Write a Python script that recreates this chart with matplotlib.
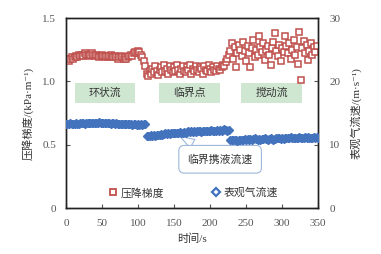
import numpy as np
import matplotlib
matplotlib.use("Agg")
import matplotlib.pyplot as plt

plt.rcParams['font.family'] = ['Liberation Serif', 'Noto Sans CJK SC', 'DejaVu Sans']
plt.rcParams['axes.unicode_minus'] = False

# ---- data ----
t_red1 = np.arange(0, 107, 2)
dp_red1 = [1.17,1.18,1.16,1.18,1.19,1.18,1.19,1.20,1.19,1.21,
           1.20,1.21,1.20,1.22,1.21,1.21,1.20,1.21,1.22,1.21,
           1.20,1.21,1.20,1.19,1.20,1.21,1.20,1.19,1.20,1.19,
           1.20,1.21,1.20,1.19,1.20,1.19,1.18,1.19,1.20,1.19,
           1.18,1.19,1.18,1.19,1.20,1.21,1.20,1.22,1.23,1.22,
           1.24,1.23,1.21,1.19]
t_red2 = np.arange(108, 227, 2)
dp_red2 = [1.16,1.12,1.06,1.04,1.08,1.06,1.10,1.07,1.12,1.08,
           1.05,1.09,1.11,1.07,1.13,1.08,1.10,1.06,1.12,1.09,
           1.07,1.11,1.08,1.13,1.09,1.06,1.10,1.12,1.08,1.07,
           1.11,1.09,1.13,1.06,1.10,1.08,1.12,1.09,1.07,1.11,
           1.10,1.06,1.12,1.09,1.08,1.13,1.10,1.07,1.11,1.09,
           1.08,1.12,1.10,1.09,1.11,1.13,1.12,1.15,1.18,1.21]
t_red3 = np.arange(228, 349, 2)
dp_red3 = [1.24,1.30,1.18,1.27,1.11,1.22,1.29,1.25,1.20,1.31,
           1.24,1.16,1.28,1.22,1.11,1.26,1.33,1.19,1.25,1.21,
           1.36,1.27,1.23,1.30,1.17,1.25,1.28,1.21,1.13,1.26,
           1.31,1.38,1.24,1.20,1.29,1.16,1.26,1.23,1.36,1.28,
           1.22,1.30,1.18,1.25,1.33,1.21,1.27,1.14,1.39,1.01,
           1.26,1.32,1.22,1.29,1.17,1.24,1.30,1.21,1.27,1.23,
           1.28]

t_blue1 = np.arange(0, 111, 2)
vg_blue1 = [13.2,13.3,13.2,13.4,13.3,13.2,13.3,13.4,13.3,13.3,
            13.4,13.5,13.4,13.3,13.4,13.5,13.4,13.4,13.5,13.4,
            13.5,13.4,13.5,13.6,13.5,13.4,13.5,13.5,13.4,13.5,
            13.4,13.3,13.4,13.4,13.3,13.4,13.3,13.2,13.3,13.3,
            13.2,13.3,13.2,13.2,13.3,13.2,13.1,13.2,13.2,13.1,
            13.2,13.1,13.2,13.1,13.2,13.2]
t_blue2 = np.arange(112, 227, 2)
vg_blue2 = [11.3,11.4,11.3,11.5,11.4,11.5,11.4,11.6,11.5,11.6,
            11.7,11.6,11.7,11.8,11.7,11.8,11.7,11.8,11.9,11.8,
            11.9,11.8,11.9,12.0,11.9,11.9,12.0,11.9,12.0,12.1,
            12.0,12.1,12.0,12.1,12.0,12.1,12.2,12.1,12.0,12.1,
            12.2,12.1,12.2,12.1,12.2,12.3,12.2,12.1,12.2,12.3,
            12.2,12.3,12.2,12.3,12.4,12.3,12.2,12.3]
t_blue3 = np.arange(228, 351, 2)
vg_blue3 = [10.7,10.8,10.7,10.8,10.7,10.6,10.7,10.8,10.7,10.8,
            10.9,10.8,10.9,10.8,10.9,10.8,10.9,11.0,10.9,10.8,
            10.9,10.8,10.9,10.9,11.0,10.9,10.8,10.9,11.0,10.9,
            10.8,10.9,11.0,11.1,11.0,10.9,11.0,10.9,11.0,11.1,
            11.0,11.1,11.2,11.1,11.0,11.1,11.0,11.1,11.2,11.1,
            11.0,11.1,11.2,11.1,11.2,11.1,11.0,11.1,11.2,11.1,
            11.2,11.1]

regime_labels = ['环状流', '临界点', '搅动流']
regime_x = [[12.5, 96], [129, 214], [243, 328]]
regime_y = [0.83, 0.99]

x_ticks = [0, 50, 100, 150, 200, 250, 300, 350]
yl_ticks = [0, 0.5, 1.0, 1.5]
yl_ticklabels = ['0', '0.5', '1.0', '1.5']
yr_ticks = [0, 10, 20, 30]

red = '#c0504d'
blue = '#4473bd'

fig = plt.figure(figsize=(3.81, 2.54), dpi=100)
ax = fig.add_axes([0.173, 0.181, 0.662, 0.748])
ax2 = ax.twinx()

t_red = np.concatenate([t_red1, t_red2, t_red3])
dp = np.concatenate([dp_red1, dp_red2, dp_red3])
t_blue = np.concatenate([t_blue1, t_blue2, t_blue3])
vg = np.concatenate([vg_blue1, vg_blue2, vg_blue3])

l1, = ax.plot(t_red, dp, ls='none', marker='s', ms=3.8, mfc='white',
              mec=red, mew=1.1, zorder=3)
l2, = ax2.plot(t_blue, vg, ls='none', marker='D', ms=3.8, mfc=blue,
               mec=blue, mew=1.0, zorder=3)

# regime boxes
for lab, (x0, x1) in zip(regime_labels, regime_x):
    ax.add_patch(plt.Rectangle((x0, regime_y[0]), x1 - x0, regime_y[1] - regime_y[0],
                               facecolor='#cfe7d1', edgecolor='none', zorder=1))
    ax.text((x0 + x1) / 2, sum(regime_y) / 2, lab, ha='center', va='center',
            fontsize=7.8, color='#333333', zorder=2)

# callout
ax.annotate('临界携液流速', xy=(155, 0.575), xytext=(214, 0.385),
            ha='center', va='center', fontsize=7.8, color='#333333',
            bbox=dict(boxstyle='round,pad=0.8,rounding_size=0.5', fc='white',
                      ec='#9db8dc', lw=0.8),
            arrowprops=dict(arrowstyle='wedge,tail_width=0.9,shrink_factor=0.5',
                            fc='white', ec='#9db8dc', lw=0.8), zorder=5)

ax.set_xlim(0, 350)
ax.set_ylim(0, 1.5)
ax2.set_ylim(0, 30)
ax.set_xticks(x_ticks)
ax.set_yticks(yl_ticks)
ax.set_yticklabels(yl_ticklabels)
ax2.set_yticks(yr_ticks)

for a in (ax, ax2):
    a.tick_params(direction='in', length=3, width=0.8, labelsize=8, colors='#555555',
                  labelcolor='#555555')
    for s in a.spines.values():
        s.set_color('#222222')
        s.set_linewidth(1.0)
ax.tick_params(axis='x', pad=8)
ax.tick_params(axis='y', pad=7)
ax2.tick_params(axis='y', pad=8)

ax.set_xlabel('时间/s', fontsize=8, color='#333333', labelpad=4)
ax.set_ylabel('压降梯度/(kPa·m⁻¹)', fontsize=8, color='#333333', labelpad=6)
ax2.set_ylabel('表观气流速/(m·s⁻¹)', fontsize=8, color='#333333', labelpad=7)

leg_h1, = ax.plot([], [], ls='none', marker='s', ms=3.8, mfc='white', mec=red, mew=1.3)
leg_h2, = ax.plot([], [], ls='none', marker='D', ms=3.8, mfc='white', mec=blue, mew=1.6)
ax.legend([leg_h1, leg_h2], ['压降梯度', '表观气流速'], ncol=2, loc='lower left',
          bbox_to_anchor=(0.125, 0.0), frameon=False, fontsize=7.8,
          handletextpad=0.2, columnspacing=4.3, handlelength=1.0,
          labelcolor='#333333')

fig.savefig('out.png', dpi=100)
